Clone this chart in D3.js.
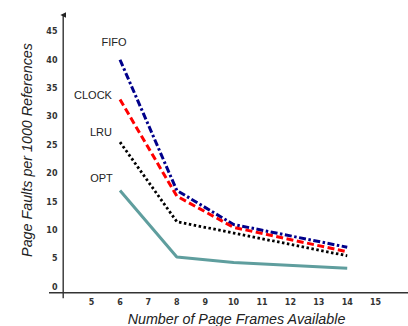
<!DOCTYPE html>
<html>
<head>
<meta charset="utf-8">
<script src="https://cdn.jsdelivr.net/npm/d3@7"></script>
<style>
  html, body { margin: 0; padding: 0; background: #fff; }
</style>
</head>
<body>
<div id="chart"></div>
<script>
// page frames available (x values)
const frames = [6, 8, 10, 14];
// page faults per 1000 references, per algorithm
const fifo = [40, 17, 11, 7];
const clock = [33, 16, 10.5, 6.2];
const lru = [25.5, 11.5, 9.5, 5.5];
const opt = [17, 5.3, 4.3, 3.3];
const algoNames = ["FIFO", "CLOCK", "LRU", "OPT"];
const xTicks = [5, 6, 7, 8, 9, 10, 11, 12, 13, 14, 15];
const yTicks = [0, 5, 10, 15, 20, 25, 30, 35, 40, 45];

const width = 408;
const height = 326;

const x = d3.scaleLinear().domain([3.5, 16.14]).range([49, 408]);
const y = d3.scaleLinear().domain([-1, 48.4]).range([292.7, 12]);

const svg = d3.create("svg")
    .attr("width", width)
    .attr("height", height)
    .attr("viewBox", [0, 0, width, height])
    .style("font-family", "'Liberation Sans', Arial, sans-serif");

// arrow head for the y axis
svg.append("defs").append("marker")
    .attr("id", "arrow")
    .attr("viewBox", "0 0 10 10")
    .attr("refX", 5).attr("refY", 5)
    .attr("markerWidth", 4).attr("markerHeight", 5)
    .attr("orient", "auto")
    .append("path")
    .attr("d", "M0,10 L5,0 L10,10 Z")
    .attr("fill", "#222");

// axes lines
svg.append("line")
    .attr("x1", x(3.5)).attr("x2", x(16.14))
    .attr("y1", y(-1)).attr("y2", y(-1))
    .attr("stroke", "#333").attr("stroke-width", 1.4);

svg.append("line")
    .attr("x1", x(4)).attr("x2", x(4))
    .attr("y1", y(-1) + 5.5).attr("y2", y(48.4) + 3)
    .attr("stroke", "#333").attr("stroke-width", 1.4)
    .attr("marker-end", "url(#arrow)");

// tick labels
svg.append("g")
    .selectAll("text")
    .data(yTicks)
    .join("text")
    .attr("x", 57.5)
    .attr("y", d => y(d))
    .attr("dy", "0.35em")
    .attr("text-anchor", "end")
    .attr("font-family", "'DejaVu Sans', sans-serif")
    .attr("font-weight", "bold")
    .attr("font-size", 8)
    .attr("fill", "#333")
    .text(d => d);

svg.append("g")
    .selectAll("text")
    .data(xTicks)
    .join("text")
    .attr("x", d => x(d))
    .attr("y", 305)
    .attr("text-anchor", "middle")
    .attr("font-family", "'DejaVu Sans', sans-serif")
    .attr("font-weight", "bold")
    .attr("font-size", 8)
    .attr("fill", "#333")
    .text(d => d);

// axis titles
svg.append("text")
    .attr("transform", "translate(32,150) rotate(-90)")
    .attr("text-anchor", "middle")
    .attr("font-style", "italic")
    .attr("font-size", 14.3)
    .attr("fill", "#222")
    .text("Page Faults per 1000 References");

svg.append("text")
    .attr("x", 236.5)
    .attr("y", 323.5)
    .attr("text-anchor", "middle")
    .attr("font-style", "italic")
    .attr("font-size", 14.3)
    .attr("fill", "#222")
    .text("Number of Page Frames Available");

// series
const series = [
    { name: algoNames[0], values: fifo, color: "#00008b", dash: "7,2.5,2.5,2.5", w: 3, lx: -6, ly: -18 },
    { name: algoNames[1], values: clock, color: "#ff0000", dash: "7,3.5", w: 3, lx: -27, ly: -4 },
    { name: algoNames[2], values: lru, color: "#000000", dash: "2.5,2.5", w: 2.8, lx: -19, ly: -10 },
    { name: algoNames[3], values: opt, color: "#5f9e9e", dash: null, w: 3, lx: -18.5, ly: -12 }
];

const line = d3.line()
    .x(d => x(d[0]))
    .y(d => y(d[1]));

series.forEach(s => {
    svg.append("path")
        .datum(frames.map((f, i) => [f, s.values[i]]))
        .attr("fill", "none")
        .attr("stroke", s.color)
        .attr("stroke-width", s.w)
        .attr("stroke-dasharray", s.dash)
        .attr("stroke-linejoin", "round")
        .attr("d", line);

    svg.append("text")
        .attr("x", x(frames[0]) + s.lx)
        .attr("y", y(s.values[0]) + s.ly)
        .attr("dy", "0.35em")
        .attr("text-anchor", "middle")
        .attr("font-size", 11)
        .attr("fill", "#222")
        .text(s.name);
});

document.getElementById("chart").append(svg.node());
</script>
</body>
</html>
